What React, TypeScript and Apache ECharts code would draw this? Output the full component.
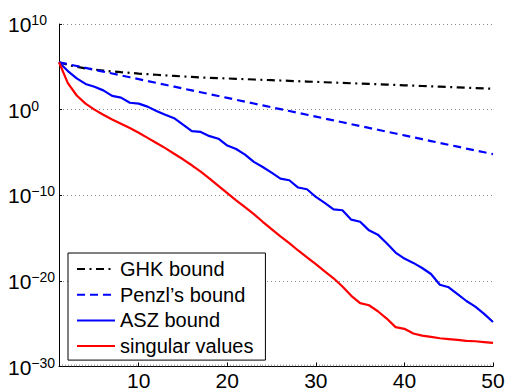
import React, { useEffect, useRef } from "react";
import * as echarts from "echarts";

// Rank index k = 1..50
const ranks: number[] = Array.from({ length: 50 }, (_, i) => i + 1);

// Base-10 exponents of each curve at k = 1..50 (plotted on a decade scale)
const ghkExp: number[] = [
  5.53, 5.22, 5.0, 4.82, 4.68, 4.56, 4.46, 4.37, 4.29, 4.21,
  4.14, 4.07, 4.0, 3.94, 3.88, 3.82, 3.76, 3.72, 3.68, 3.64,
  3.6, 3.56, 3.52, 3.48, 3.44, 3.4, 3.36, 3.32, 3.28, 3.24,
  3.2, 3.16, 3.12, 3.08, 3.04, 3.0, 2.96, 2.92, 2.88, 2.84,
  2.8, 2.76, 2.72, 2.68, 2.64, 2.6, 2.56, 2.52, 2.48, 2.44,
];

const penzlExp: number[] = [
  5.53, 5.31, 5.09, 4.87, 4.65, 4.44, 4.22, 4.0, 3.78, 3.56,
  3.34, 3.12, 2.9, 2.68, 2.46, 2.25, 2.03, 1.81, 1.59, 1.37,
  1.15, 0.93, 0.71, 0.49, 0.27, 0.06, -0.16, -0.38, -0.6, -0.82,
  -1.04, -1.26, -1.48, -1.7, -1.92, -2.14, -2.35, -2.57, -2.79, -3.01,
  -3.23, -3.45, -3.67, -3.89, -4.11, -4.33, -4.55, -4.76, -4.98, -5.2,
];

const aszExp: number[] = [
  5.53, 4.5, 3.65, 3.0, 2.68, 2.25, 1.6, 1.4, 0.8, 0.7,
  0.35, -0.15, -0.6, -1.0, -1.75, -2.5, -2.6, -3.1, -3.4, -4.2,
  -4.6, -5.25, -6.1, -6.7, -7.35, -8.05, -8.25, -9.1, -9.3, -10.2,
  -10.9, -11.65, -11.75, -12.85, -13.1, -14.1, -14.6, -15.6, -16.7, -17.4,
  -17.9, -18.5, -19.2, -20.45, -20.75, -21.55, -22.35, -23.0, -23.85, -24.8,
];

const singularExp: number[] = [
  5.53, 3.1, 1.65, 0.7, 0.0, -0.6, -1.15, -1.65, -2.15, -2.7,
  -3.3, -3.9, -4.5, -5.15, -5.8, -6.5, -7.25, -8.05, -8.9, -9.75,
  -10.6, -11.4, -12.2, -13.1, -13.95, -14.8, -15.6, -16.45, -17.25, -18.05,
  -18.9, -19.7, -20.65, -21.75, -22.6, -22.85, -23.55, -24.4, -25.4, -25.6,
  -26.15, -26.4, -26.55, -26.7, -26.8, -26.9, -27.0, -27.05, -27.15, -27.25,
];

const seriesNames: string[] = [
  "GHK bound",
  "Penzl\u2019s bound",
  "ASZ bound",
  "singular values",
];

// Decade exponents shown on the vertical axis
const decadeMin = -30;
const decadeMax = 10;
const decadeStep = 10;

const FONT = "'Liberation Sans', Arial, Helvetica, sans-serif";

const toPairs = (exps: number[]) => ranks.map((k, i) => [k, exps[i]]);

export default function App() {
  const ref = useRef<HTMLDivElement>(null);

  useEffect(() => {
    document.body.style.margin = "0";
    if (!ref.current) return;
    const chart = echarts.init(ref.current, undefined, { renderer: "svg" });

    const lineSeries = (
      name: string,
      exps: number[],
      color: string,
      type: any
    ) => ({
      name,
      type: "line",
      data: toPairs(exps),
      symbol: "circle",
      showSymbol: false,
      lineStyle: { color, width: 2.2, type, cap: "butt" },
      itemStyle: { color },
      emphasis: { disabled: true },
    });

    chart.setOption({
      animation: false,
      textStyle: { fontFamily: FONT },
      grid: {
        left: 59,
        right: 13,
        top: 24,
        bottom: 24.5,
        containLabel: false,
        outerBoundsMode: "none",
      },
      legend: {
        show: true,
        orient: "vertical",
        left: 68,
        top: 253,
        padding: [5, 12, 3, 8],
        itemWidth: 38,
        itemHeight: 14,
        itemGap: 3.7,
        borderColor: "#000",
        borderWidth: 1,
        backgroundColor: "#fff",
        selectedMode: false,
        itemStyle: { opacity: 0 },
        textStyle: {
          fontFamily: FONT,
          fontSize: 20,
          lineHeight: 22,
          color: "#000",
        },
        data: seriesNames,
      },
      xAxis: {
        type: "value",
        min: 1,
        max: 50,
        splitNumber: 5,
        axisLine: {
          show: true,
          onZero: false,
          lineStyle: { color: "#000", width: 1 },
        },
        axisTick: { show: true, inside: true, length: 4, lineStyle: { color: "#000" } },
        minorTick: {
          show: true,
          splitNumber: 30,
          length: 2,
          lineStyle: { color: "#666", width: 0.6 },
        },
        splitLine: { show: false },
        axisLabel: {
          fontSize: 21,
          color: "#000",
          margin: 3,
          fontFamily: FONT,
          formatter: (v: number) => (v === 1 ? "" : String(v)),
        },
      },
      yAxis: {
        type: "value",
        min: decadeMin,
        max: decadeMax,
        interval: decadeStep,
        axisLine: { show: true, lineStyle: { color: "#000", width: 1 } },
        axisTick: { show: true, inside: true, length: 3, lineStyle: { color: "#000" } },
        splitLine: {
          show: true,
          lineStyle: { color: "#8a8a8a", width: 1, type: [1, 3] },
        },
        axisLabel: {
          align: "left",
          margin: 51,
          color: "#000",
          showMinLabel: true,
          showMaxLabel: true,
          hideOverlap: false,
          formatter: (v: number) => {
            const e = Math.round(v);
            const s = e < 0 ? "\u2212" + Math.abs(e) : String(e);
            return "{b|10}{s|" + s + "}";
          },
          rich: {
            b: {
              fontSize: 21,
              lineHeight: 22,
              fontFamily: FONT,
              color: "#000",
              padding: [3, 0, 0, 0],
              verticalAlign: "bottom",
            },
            s: {
              fontSize: 14,
              lineHeight: 14,
              fontFamily: FONT,
              color: "#000",
              verticalAlign: "top",
            },
          },
        },
      },
      series: [
        lineSeries(seriesNames[0], ghkExp, "#000000", [8, 4.5, 2, 4.5]),
        lineSeries(seriesNames[1], penzlExp, "#0000ff", [8, 5]),
        lineSeries(seriesNames[2], aszExp, "#0000ff", "solid"),
        lineSeries(seriesNames[3], singularExp, "#ff0000", "solid"),
      ],
    });

    return () => {
      chart.dispose();
    };
  }, []);

  return <div ref={ref} style={{ width: 506, height: 391 }} />;
}
